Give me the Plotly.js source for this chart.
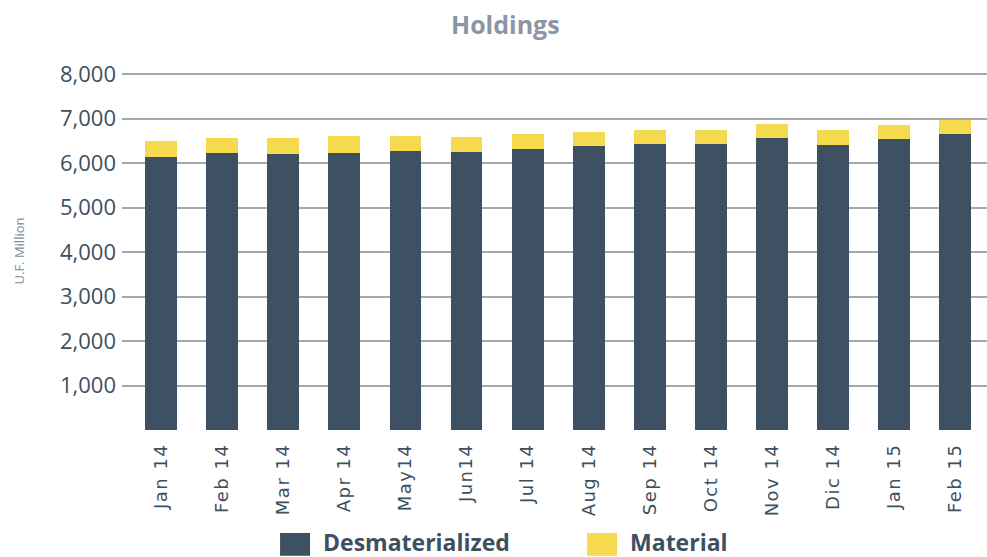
<!DOCTYPE html>
<html>
<head>
<meta charset="utf-8">
<script src="https://cdn.plot.ly/plotly-3.0.1.min.js"></script>
<style>
html,body{margin:0;padding:0;background:#fff;}
#chart{width:987px;height:557px;}
.xtick text{letter-spacing:1.5px;}
.legend .legendpoints path{transform-box:fill-box;transform-origin:center;transform:translate(26px,2px) scale(2.5,1.9);}
</style>
</head>
<body>
<div id="chart"></div>
<script>
var months = ["Jan 14","Feb 14","Mar 14","Apr 14","May14","Jun14","Jul 14","Aug 14","Sep 14","Oct 14","Nov 14","Dic 14","Jan 15","Feb 15"];
var desmaterialized = [6140,6225,6205,6225,6270,6250,6315,6380,6425,6425,6560,6405,6535,6645];
var material = [350,330,355,375,335,330,330,330,330,330,330,350,330,330];
var yTicks = [1000,2000,3000,4000,5000,6000,7000,8000];

var textColor = "#3e4f5f";
var data = [
  {type:"bar", name:"Desmaterialized", x:months, y:desmaterialized, marker:{color:"#3e5162"}},
  {type:"bar", name:"Material", x:months, y:material, marker:{color:"#f5d94e"}}
];
var layout = {
  width:987, height:557,
  margin:{l:122, r:0, t:72, b:127, autoexpand:false},
  paper_bgcolor:"#fff", plot_bgcolor:"#fff",
  barmode:"stack", bargap:0.48,
  font:{family:"Open Sans, sans-serif", color:textColor},
  title:{text:"<b>Holdings</b>", x:0.512, xanchor:"center", y:0.97, yanchor:"top",
         font:{family:"Open Sans, sans-serif", size:25, color:"#8b95a5"}},
  xaxis:{type:"category", range:[-0.64,13.52], tickangle:-90, showgrid:false, showline:false, zeroline:false,
         ticks:"", ticklabelstandoff:9, tickfont:{family:"DejaVu Sans, sans-serif", size:18, color:textColor}},
  yaxis:{range:[0,8050], tickvals:yTicks, tickformat:",d", showgrid:true, gridcolor:"#a8a8a8", gridwidth:2,
         zeroline:false, showline:false, ticks:"", ticklabelstandoff:5,
         tickfont:{family:"Open Sans, sans-serif", size:22, color:textColor},
         title:{text:"U.F. Million", standoff:32, font:{family:"Open Sans, sans-serif", size:13, color:"#7f8e9c"}}},
  legend:{orientation:"h", x:0.17, xanchor:"left", y:-0.314, yanchor:"middle", traceorder:"normal",
          bgcolor:"rgba(0,0,0,0)", entrywidth:248,
          font:{family:"Open Sans, sans-serif", size:23, color:textColor, weight:"bold"}, itemwidth:44},
  showlegend:true
};
Plotly.newPlot("chart", data, layout, {displayModeBar:false, staticPlot:true});
</script>
</body>
</html>
